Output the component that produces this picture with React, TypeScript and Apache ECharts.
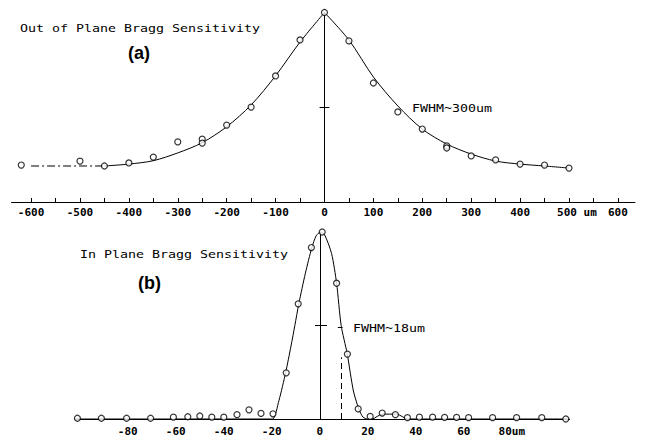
import React, { useEffect, useRef } from "react";
import * as echarts from "echarts";

// ---------- Panel (a): Out of plane ----------
const ptsAX = [-620, -500, -450, -400, -350, -300, -250, -250, -200, -150, -100, -50, 0, 50, 100, 150, 200, 250, 250, 300, 350, 400, 450, 500];
const ptsAY = [0.195, 0.216, 0.19, 0.206, 0.237, 0.317, 0.332, 0.311, 0.406, 0.501, 0.665, 0.855, 1.0, 0.85, 0.628, 0.475, 0.385, 0.296, 0.285, 0.243, 0.222, 0.2, 0.195, 0.179];

const fitADashX = [-600, -550, -500, -450];
const fitADashY = [0.19, 0.19, 0.19, 0.19];
const fitALeftX = [-450, -400, -350, -300, -250, -200, -150, -100, -50, 0];
const fitALeftY = [0.19, 0.2, 0.218, 0.259, 0.313, 0.397, 0.512, 0.666, 0.844, 1.0];
const fitARightX = [0, 50, 100, 150, 200, 250, 300, 350, 400, 450, 500];
const fitARightY = [1.0, 0.855, 0.66, 0.507, 0.385, 0.306, 0.253, 0.216, 0.2, 0.19, 0.179];

const ticksA = [-600, -550, -500, -450, -400, -350, -300, -250, -200, -150, -100, -50, 0, 50, 100, 150, 200, 250, 300, 350, 400, 450, 500, 550, 600];
const labelsA = [-600, -500, -400, -300, -200, -100, 0, 100, 200, 300, 400, 500, 600];

// ---------- Panel (b): In plane ----------
const ptsBX = [-101, -91, -80.5, -70.5, -61, -55, -50, -45, -40, -34.5, -29.5, -24.5, -19.5, -14, -9, -3.5, 1, 7, 11.5, 16, 21, 26, 31.5, 36.5, 41.5, 47, 52, 57, 62, 72, 82, 92.5, 102.5];
const ptsBY = [0.004, 0.004, 0.004, 0.004, 0.01, 0.012, 0.016, 0.01, 0.01, 0.023, 0.049, 0.03, 0.028, 0.247, 0.616, 0.917, 1.0, 0.726, 0.347, 0.054, 0.014, 0.032, 0.023, 0.007, 0.01, 0.01, 0.009, 0.009, 0.007, 0.007, 0.007, 0.007, 0.0];

const fitBX = [-102, -60, -30, -22, -19.6, -17, -14.2, -12, -10.4, -8.75, -6, -3.3, -1.5, 0.3, 2, 4.9, 7, 8.9, 11.4, 14, 16.25, 18, 20, 21.7, 26, 32, 36.7, 45, 104];
const fitBY = [0, 0, 0, 0, 0, 0.1, 0.25, 0.39, 0.5, 0.616, 0.78, 0.917, 0.98, 1.0, 0.985, 0.885, 0.726, 0.5, 0.35, 0.15, 0.054, 0.01, 0, 0, 0.026, 0.026, 0, 0, 0];

const labelsB = [-80, -60, -40, -20, 0, 20, 40, 60, 80];

// annotation positions (data units)
const halfMax = 0.5;
const halfTickA = [-10, 10];
const halfTickB = [-2, 3];
const halfTickB2 = [7.5, 9.5];
const fwhmDashB = 9;
const fwhmDashTopB = 0.33;

const MONO = "DejaVu Sans Mono";
const SANS = "Liberation Sans";

const zip = (xs: number[], ys: number[]) => xs.map((x, i) => [x, ys[i]]);

export default function App() {
  const ref = useRef<HTMLDivElement>(null);
  useEffect(() => {
    if (!ref.current) return;
    const chart = echarts.init(ref.current, undefined, { renderer: "svg" });
    const black = "#000";
    const lineStyle = { color: black, width: 1 };
    const markStyle = { color: black, width: 1, type: "solid" as const };
    const axisLabelBase = {
      color: black,
      fontFamily: MONO,
      fontSize: 11,
      fontWeight: "bold" as const,
    };
    const titleText = (text: string, x: number, y: number) => ({
      type: "text",
      x,
      y,
      scaleX: 1.21,
      style: {
        text,
        fill: black,
        font: `11px "${MONO}"`,
        fontFamily: MONO,
        fontSize: 11,
        align: "left",
        verticalAlign: "middle",
        textAlign: "left",
        textVerticalAlign: "middle",
      },
    });
    const bigText = (text: string, x: number, y: number) => ({
      type: "text",
      x,
      y,
      style: {
        text,
        fill: black,
        font: `bold 18px "${SANS}"`,
        fontFamily: SANS,
        fontSize: 18,
        fontWeight: "bold",
        align: "left",
        verticalAlign: "middle",
        textAlign: "left",
        textVerticalAlign: "middle",
      },
    });

    const scatterStyle = {
      type: "scatter",
      symbol: "circle",
      symbolSize: 6,
      itemStyle: { color: "#fff", borderColor: black, borderWidth: 1.2 },
      z: 5,
    };

    chart.setOption({
      animation: false,
      backgroundColor: "#fff",
      grid: [
        { left: 11.5, width: 623.5, top: 12.5, height: 189.5 },
        { left: 75, width: 494.4, top: 232, height: 190 },
      ],
      xAxis: [
        {
          type: "value",
          gridIndex: 0,
          min: -640,
          max: 635,
          splitLine: { show: false },
          axisLine: { show: true, onZero: false, lineStyle: { color: black, width: 1 } },
          axisTick: {
            show: true,
            inside: true,
            length: 4,
            customValues: ticksA,
            lineStyle: { color: black, width: 1 },
          },
          axisLabel: {
            ...axisLabelBase,
            margin: 5,
            customValues: labelsA,
            formatter: (v: number) => (v === 500 ? "{u|500 um}" : String(v)),
            rich: {
              u: { ...axisLabelBase, padding: [0, 0, 0, 16] },
            },
          },
        },
        {
          type: "value",
          gridIndex: 1,
          min: -102,
          max: 104,
          splitLine: { show: false },
          axisLine: { show: true, onZero: false, lineStyle: { color: black, width: 1 } },
          axisTick: { show: false },
          axisLabel: {
            ...axisLabelBase,
            margin: 7,
            customValues: labelsB,
            formatter: (v: number) => (v === 80 ? "80um" : String(v)),
          },
        },
      ],
      yAxis: [
        { type: "value", gridIndex: 0, min: 0, max: 1, show: false },
        { type: "value", gridIndex: 1, min: 0, max: 1, show: false },
      ],
      series: [
        {
          type: "line",
          xAxisIndex: 0,
          yAxisIndex: 0,
          data: zip(fitADashX, fitADashY),
          showSymbol: false,
          lineStyle: { ...lineStyle, type: [8, 3, 2, 3] },
        },
        {
          type: "line",
          xAxisIndex: 0,
          yAxisIndex: 0,
          data: zip(fitALeftX, fitALeftY),
          showSymbol: false,
          smooth: 0.3,
          lineStyle,
          markLine: {
            silent: true,
            symbol: "none",
            label: { show: false },
            lineStyle: markStyle,
            data: [
              [{ coord: [0, 0] }, { coord: [0, 1] }],
              [{ coord: [halfTickA[0], halfMax] }, { coord: [halfTickA[1], halfMax] }],
            ],
          },
        },
        {
          type: "line",
          xAxisIndex: 0,
          yAxisIndex: 0,
          data: zip(fitARightX, fitARightY),
          showSymbol: false,
          smooth: 0.3,
          lineStyle,
        },
        {
          ...scatterStyle,
          xAxisIndex: 0,
          yAxisIndex: 0,
          data: zip(ptsAX, ptsAY),
        },
        {
          type: "line",
          xAxisIndex: 1,
          yAxisIndex: 1,
          data: zip(fitBX, fitBY),
          showSymbol: false,
          smooth: 0.25,
          lineStyle,
          markLine: {
            silent: true,
            symbol: "none",
            label: { show: false },
            lineStyle: markStyle,
            data: [
              [{ coord: [0, 0] }, { coord: [0, 1] }],
              [{ coord: [halfTickB[0], halfMax] }, { coord: [halfTickB[1], halfMax] }],
              [{ coord: [halfTickB2[0], halfMax - 0.01] }, { coord: [halfTickB2[1], halfMax - 0.01] }],
              [
                { coord: [fwhmDashB, 0], lineStyle: { type: [6, 4] } },
                { coord: [fwhmDashB, fwhmDashTopB] },
              ],
            ],
          },
        },
        {
          ...scatterStyle,
          xAxisIndex: 1,
          yAxisIndex: 1,
          data: zip(ptsBX, ptsBY),
        },
      ],
      graphic: [
        titleText("Out of Plane Bragg Sensitivity", 20, 28),
        bigText("(a)", 128, 53),
        titleText("FWHM~300um", 412, 108),
        titleText("In Plane Bragg Sensitivity", 80, 254),
        bigText("(b)", 138, 283),
        titleText("FWHM~18um", 353, 328),
      ],
    });
    return () => chart.dispose();
  }, []);
  return (
    <div
      ref={ref}
      style={{ position: "absolute", left: 0, top: 0, width: 645, height: 437, background: "#fff" }}
    />
  );
}
